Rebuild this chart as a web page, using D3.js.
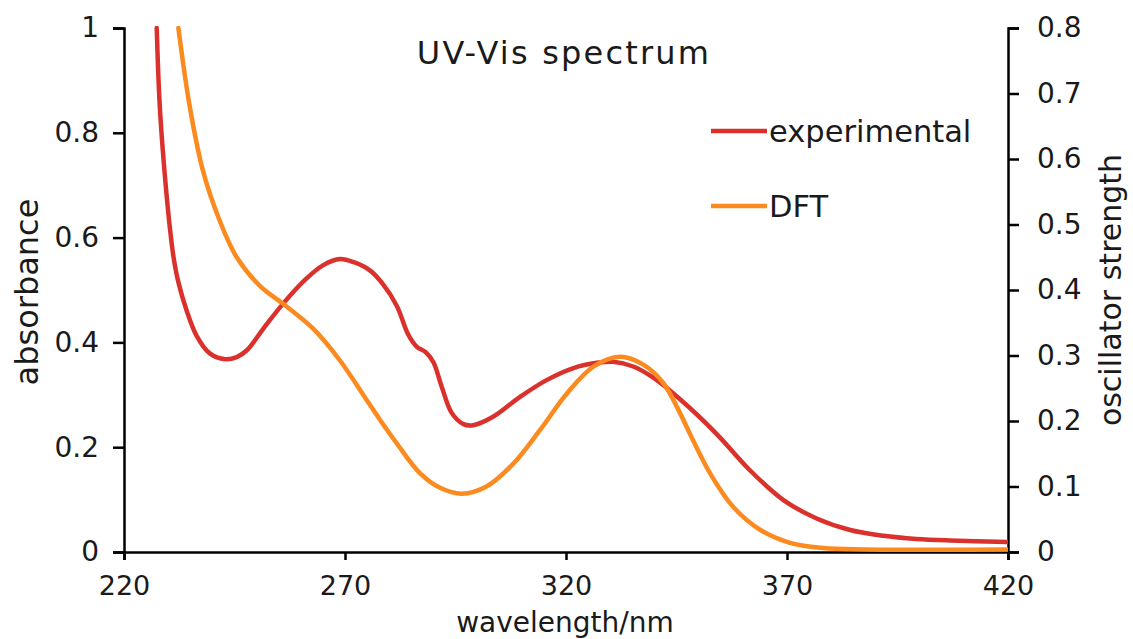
<!DOCTYPE html>
<html>
<head>
<meta charset="utf-8">
<script src="https://cdn.jsdelivr.net/npm/d3@7"></script>
<style>
  html, body { margin: 0; padding: 0; background: #fff; }
  svg { display: block; }
  text { font-family: "DejaVu Sans", sans-serif; fill: #1a1a1a; }
</style>
</head>
<body>
<svg id="chart" width="1133" height="639"></svg>
<script>
// Measured absorbance (left axis)
const expWavelength = [227.4, 228.1, 229.3, 230.4, 231.2, 232.3, 234.2, 236.4, 239.4, 242.9, 245.5,
  247.8, 251.5, 256.0, 261.3, 265.0, 268.9, 272.0, 275.7, 278.5, 281.7, 284.3, 286.2, 288.3,
  290.0, 291.9, 294.1, 296.8, 299.0, 303.5, 309.6, 315.6, 321.7, 327.0, 330.7, 335.2, 339.5,
  346.0, 354.0, 361.6, 369.2, 376.7, 384.3, 391.8, 399.3, 406.9, 420.0];
const expAbsorbance = [1.00, 0.85, 0.713, 0.617, 0.563, 0.515, 0.460, 0.413, 0.379, 0.368, 0.372,
  0.385, 0.426, 0.474, 0.522, 0.547, 0.559, 0.553, 0.537, 0.512, 0.470, 0.415, 0.392, 0.381,
  0.362, 0.315, 0.266, 0.244, 0.242, 0.258, 0.296, 0.328, 0.351, 0.361, 0.363, 0.354, 0.334,
  0.290, 0.226, 0.156, 0.099, 0.064, 0.042, 0.031, 0.025, 0.022, 0.019];

// Computed (DFT) spectrum as oscillator strength (right axis)
const dftWavelength = [232.3, 234.9, 237.9, 241.7, 245.5, 250.8, 256.0, 262.8, 268.9, 274.9, 277.9,
  281.7, 287.0, 291.5, 296.4, 302.0, 308.1, 314.1, 320.2, 326.2, 332.2, 337.5, 342.0, 345.8,
  348.0, 352.6, 357.8, 363.9, 370.7, 378.2, 388.0, 420.0];
const dftStrength = [0.80, 0.679, 0.581, 0.505, 0.450, 0.406, 0.379, 0.341, 0.292, 0.232, 0.202,
  0.166, 0.120, 0.098, 0.089, 0.100, 0.135, 0.186, 0.242, 0.283, 0.298, 0.286, 0.258, 0.212,
  0.181, 0.120, 0.069, 0.034, 0.014, 0.006, 0.004, 0.004];

const wavelengthTicks = [220, 270, 320, 370, 420];
const absorbanceTicks = [0, 0.2, 0.4, 0.6, 0.8, 1];
const strengthTicks = [0, 0.1, 0.2, 0.3, 0.4, 0.5, 0.6, 0.7, 0.8];

const seriesNames = ["experimental", "DFT"];
const seriesColors = ["#da312c", "#fc8a1f"];

const svg = d3.select("#chart");
const plotLeft = 124, plotRight = 1008, plotTop = 28, plotBottom = 552;

const x = d3.scaleLinear().domain([220, 420]).range([plotLeft, plotRight]);
const yAbs = d3.scaleLinear().domain([0, 1]).range([plotBottom, plotTop]);
const yStr = d3.scaleLinear().domain([0, 0.8]).range([plotBottom, plotTop]);

svg.append("defs").append("clipPath").attr("id", "plot-clip")
  .append("rect").attr("x", plotLeft).attr("y", plotTop - 2)
  .attr("width", plotRight - plotLeft).attr("height", plotBottom - plotTop + 2);

const fmt = d3.format("~g");

// Axes
const axisStyle = size => g => {
  g.selectAll(".domain").attr("stroke", "#000").attr("stroke-width", 2.5);
  g.selectAll(".tick line").attr("stroke", "#000").attr("stroke-width", 2.5);
  g.selectAll(".tick text").style("font-size", size + "px").attr("fill", "#1a1a1a");
};

svg.append("g").attr("transform", `translate(0,${plotBottom})`)
  .call(d3.axisBottom(x).tickValues(wavelengthTicks).tickFormat(fmt).tickSizeOuter(0).tickSize(8).tickPadding(16))
  .call(axisStyle(27));

svg.append("g").attr("transform", `translate(${plotLeft},0)`)
  .call(d3.axisLeft(yAbs).tickValues(absorbanceTicks).tickFormat(fmt).tickSizeOuter(0).tickSize(11).tickPadding(14))
  .call(axisStyle(28));

svg.append("g").attr("transform", `translate(${plotRight},0)`)
  .call(d3.axisRight(yStr).tickValues(strengthTicks).tickFormat(fmt).tickSizeOuter(0).tickSize(11).tickPadding(18))
  .call(axisStyle(28));

// Spectra
const plot = svg.append("g").attr("clip-path", "url(#plot-clip)");

const expLine = d3.line()
  .x(i => x(expWavelength[i])).y(i => yAbs(expAbsorbance[i]))
  .curve(d3.curveCatmullRom.alpha(0.5));
const dftLine = d3.line()
  .x(i => x(dftWavelength[i])).y(i => yStr(dftStrength[i]))
  .curve(d3.curveCatmullRom.alpha(0.5));

plot.append("path").attr("d", expLine(d3.range(expWavelength.length)))
  .attr("fill", "none").attr("stroke", seriesColors[0]).attr("stroke-width", 4.5)
  .attr("stroke-linejoin", "round").attr("stroke-linecap", "round");
plot.append("path").attr("d", dftLine(d3.range(dftWavelength.length)))
  .attr("fill", "none").attr("stroke", seriesColors[1]).attr("stroke-width", 4.5)
  .attr("stroke-linejoin", "round").attr("stroke-linecap", "round");

// Title
svg.append("text").attr("x", 564).attr("y", 64).attr("text-anchor", "middle")
  .style("font-size", "32px").style("letter-spacing", "2.2px").text("UV-Vis spectrum");

// Legend
const legend = svg.append("g");
seriesNames.forEach((name, i) => {
  const ly = 131 + i * 75;
  legend.append("line").attr("x1", 711).attr("x2", 767).attr("y1", ly).attr("y2", ly)
    .attr("stroke", seriesColors[i]).attr("stroke-width", 4.5);
  legend.append("text").attr("x", 769).attr("y", ly + 11).style("font-size", "30.5px").text(name);
});

// Axis titles
svg.append("text").attr("text-anchor", "middle")
  .attr("transform", "translate(565,632)").style("font-size", "28px").text("wavelength/nm");
svg.append("text").attr("text-anchor", "middle")
  .attr("transform", "translate(38,292) rotate(-90)").style("font-size", "32px").text("absorbance");
svg.append("text").attr("text-anchor", "middle")
  .attr("transform", "translate(1121,290) rotate(-90)").style("font-size", "30px").text("oscillator strength");
</script>
</body>
</html>
